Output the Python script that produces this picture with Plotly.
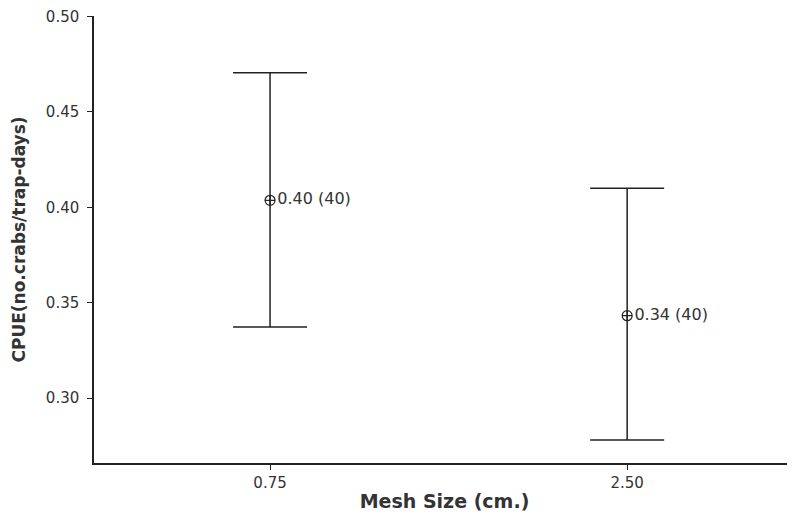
import plotly.graph_objects as go

mesh_sizes = [0.75, 2.50]
tick_labels = ["0.75", "2.50"]
means = [0.4037, 0.3432]
upper = [0.4705, 0.4100]
lower = [0.3373, 0.2780]
counts = [40, 40]

x_pos = [0, 1]
labels = [f"{m:.2f} ({n})" for m, n in zip(means, counts)]

fig = go.Figure()
fig.add_trace(go.Scatter(
    x=x_pos, y=means,
    mode="markers+text",
    text=labels,
    textposition="middle right",
    textfont=dict(family="DejaVu Sans", size=16, color="#333333"),
    marker=dict(symbol="circle-cross-open", size=10, color="#222222", line=dict(width=1.2)),
    error_y=dict(type="data", symmetric=False,
                 array=[u - m for u, m in zip(upper, means)],
                 arrayminus=[m - l for m, l in zip(means, lower)],
                 color="#222222", thickness=1.5, width=37),
    showlegend=False,
    cliponaxis=False,
))

fig.update_layout(
    width=795, height=520,
    margin=dict(l=86, r=8, t=8, b=65, autoexpand=False),
    paper_bgcolor="white", plot_bgcolor="white",
    font=dict(family="DejaVu Sans", color="#333333"),
    xaxis=dict(
        range=[-0.493, 1.47], tickvals=x_pos, ticktext=tick_labels,
        showline=True, linecolor="#222222", linewidth=1.5,
        ticks="outside", ticklen=5, tickcolor="#222222",
        showgrid=False, zeroline=False, automargin=False,
        tickfont=dict(size=15, color="#333333"),
        title=dict(text="<b>Mesh Size (cm.)</b>", font=dict(size=19, color="#333333"), standoff=4),
    ),
    yaxis=dict(
        range=[0.266, 0.5003], tickvals=[0.30, 0.35, 0.40, 0.45, 0.50], tickformat=".2f",
        showline=True, linecolor="#222222", linewidth=1.5,
        ticks="outside", ticklen=5, tickcolor="#222222",
        ticklabelstandoff=5, ticklabeloverflow="allow",
        showgrid=False, zeroline=False, automargin=False,
        tickfont=dict(size=15, color="#333333"),
        title=dict(text="<b>CPUE(no.crabs/trap-days)</b>", font=dict(size=17, color="#333333"), standoff=16),
    ),
)

fig.write_html("out.html")
